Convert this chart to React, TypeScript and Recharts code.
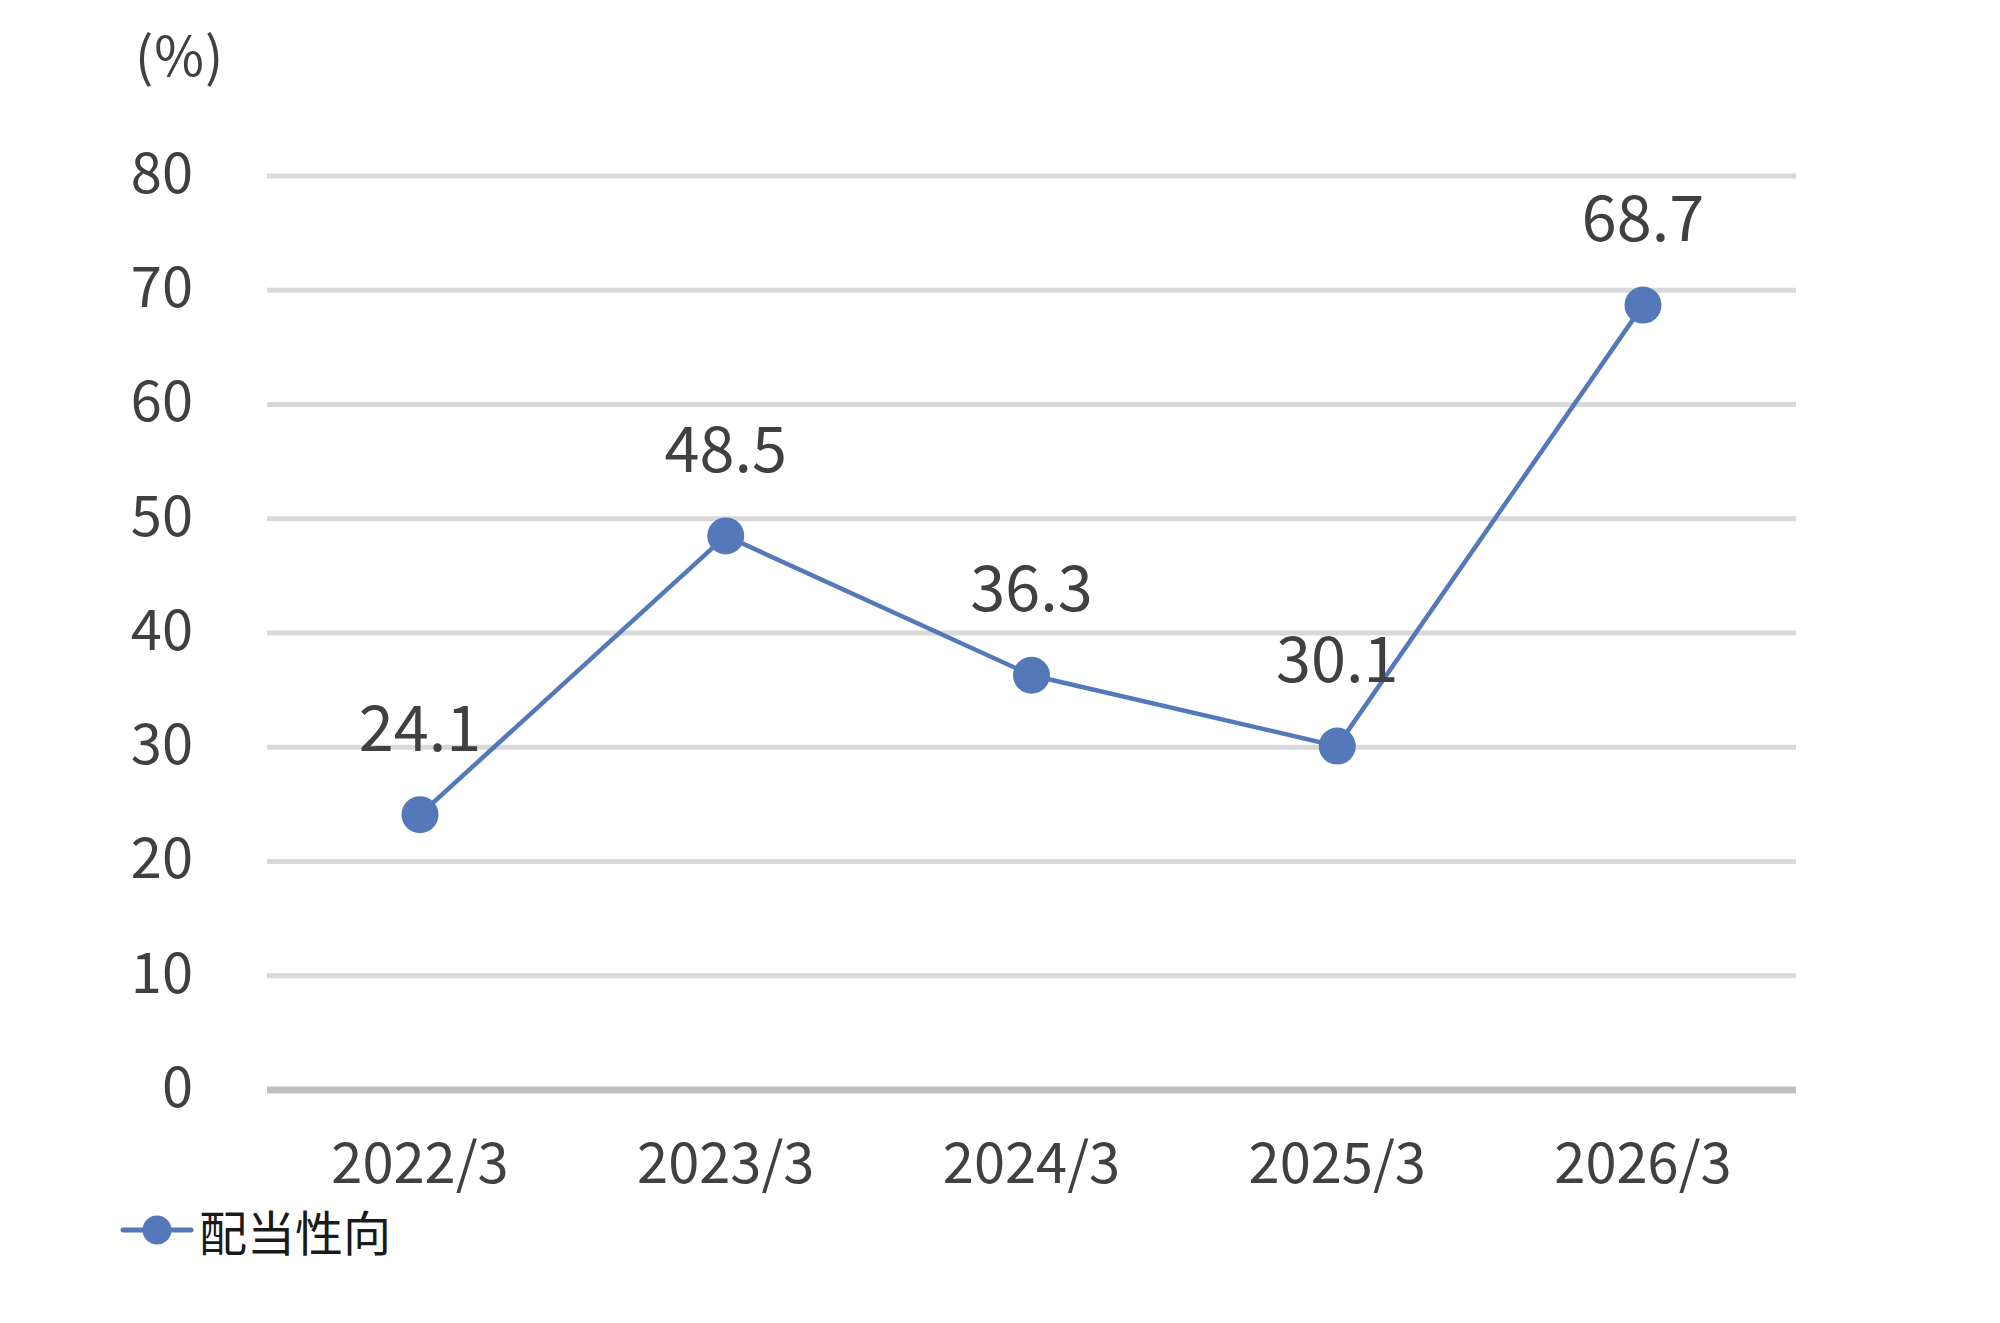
import React from "react";
import {
  CartesianGrid,
  LabelList,
  Line,
  LineChart,
  XAxis,
  YAxis,
} from "recharts";

// Payout ratio line chart, Excel-style: grey gridlines, blue line with round
// markers, value labels above each point.
const FONT = '"Noto Sans CJK JP", "Noto Sans", sans-serif';
const BLUE = "#5478BA";
const TEXT = "#404040";

const periods = ["2022/3", "2023/3", "2024/3", "2025/3", "2026/3"];
const payoutRatio = [24.1, 48.5, 36.3, 30.1, 68.7];
const yTicks = [0, 10, 20, 30, 40, 50, 60, 70, 80];
const seriesName = "配当性向";

const data = periods.map((p, i) => ({ period: p, value: payoutRatio[i] }));

// legend drawn by hand so it doesn't eat into the plot height
function ChartLegend() {
  return (
    <div
      style={{
        position: "absolute",
        left: 0,
        top: 1200,
        height: 60,
        display: "flex",
        alignItems: "center",
      }}
    >
      <svg width={199} height={60} style={{ display: "block" }}>
        <line x1={123} y1={30} x2={191} y2={30} stroke={BLUE} strokeWidth={5} strokeLinecap="round" />
        <circle cx={157} cy={30} r={14.5} fill={BLUE} />
      </svg>
      <span style={{ fontSize: 48, lineHeight: "60px", color: "#1a1a1a", whiteSpace: "nowrap" }}>
        {seriesName}
      </span>
    </div>
  );
}

export default function App() {
  return (
    <div
      style={{
        position: "absolute",
        left: 0,
        top: 0,
        width: 2000,
        height: 1323,
        background: "#fff",
        fontFamily: FONT,
      }}
    >
      <div
        style={{
          position: "absolute",
          left: 135,
          top: 18,
          fontSize: 54,
          lineHeight: "70px",
          letterSpacing: 1,
          color: TEXT,
        }}
      >
        (%)
      </div>
      <LineChart
        width={2000}
        height={1323}
        data={data}
        margin={{ top: 176, right: 204, bottom: 103, left: 0 }}
      >
        <CartesianGrid stroke="#d9d9d9" strokeWidth={5} vertical={false} />
        <XAxis
          dataKey="period"
          height={130}
          padding={{ left: 153, right: 153 }}
          tickSize={0}
          tickMargin={53}
          tick={{ fontSize: 56, fill: TEXT, fontFamily: FONT }}
          axisLine={{ stroke: "#bfbfbf", strokeWidth: 7 }}
        />
        <YAxis
          type="number"
          domain={[0, 80]}
          ticks={yTicks}
          width={267}
          tickSize={0}
          tickMargin={74}
          tick={{ fontSize: 56, fill: TEXT, fontFamily: FONT, dy: -3 }}
          axisLine={false}
          tickLine={false}
          interval={0}
        />
        <Line
          dataKey="value"
          name={seriesName}
          stroke={BLUE}
          strokeWidth={4.5}
          dot={{ r: 18.5, fill: BLUE, stroke: "none" }}
          activeDot={false}
          isAnimationActive={false}
        >
          <LabelList
            dataKey="value"
            position="top"
            offset={64}
            formatter={(v: number) => v.toFixed(1)}
            style={{ fontSize: 63, fill: TEXT, fontFamily: FONT }}
          />
        </Line>
      </LineChart>
      <ChartLegend />
    </div>
  );
}
